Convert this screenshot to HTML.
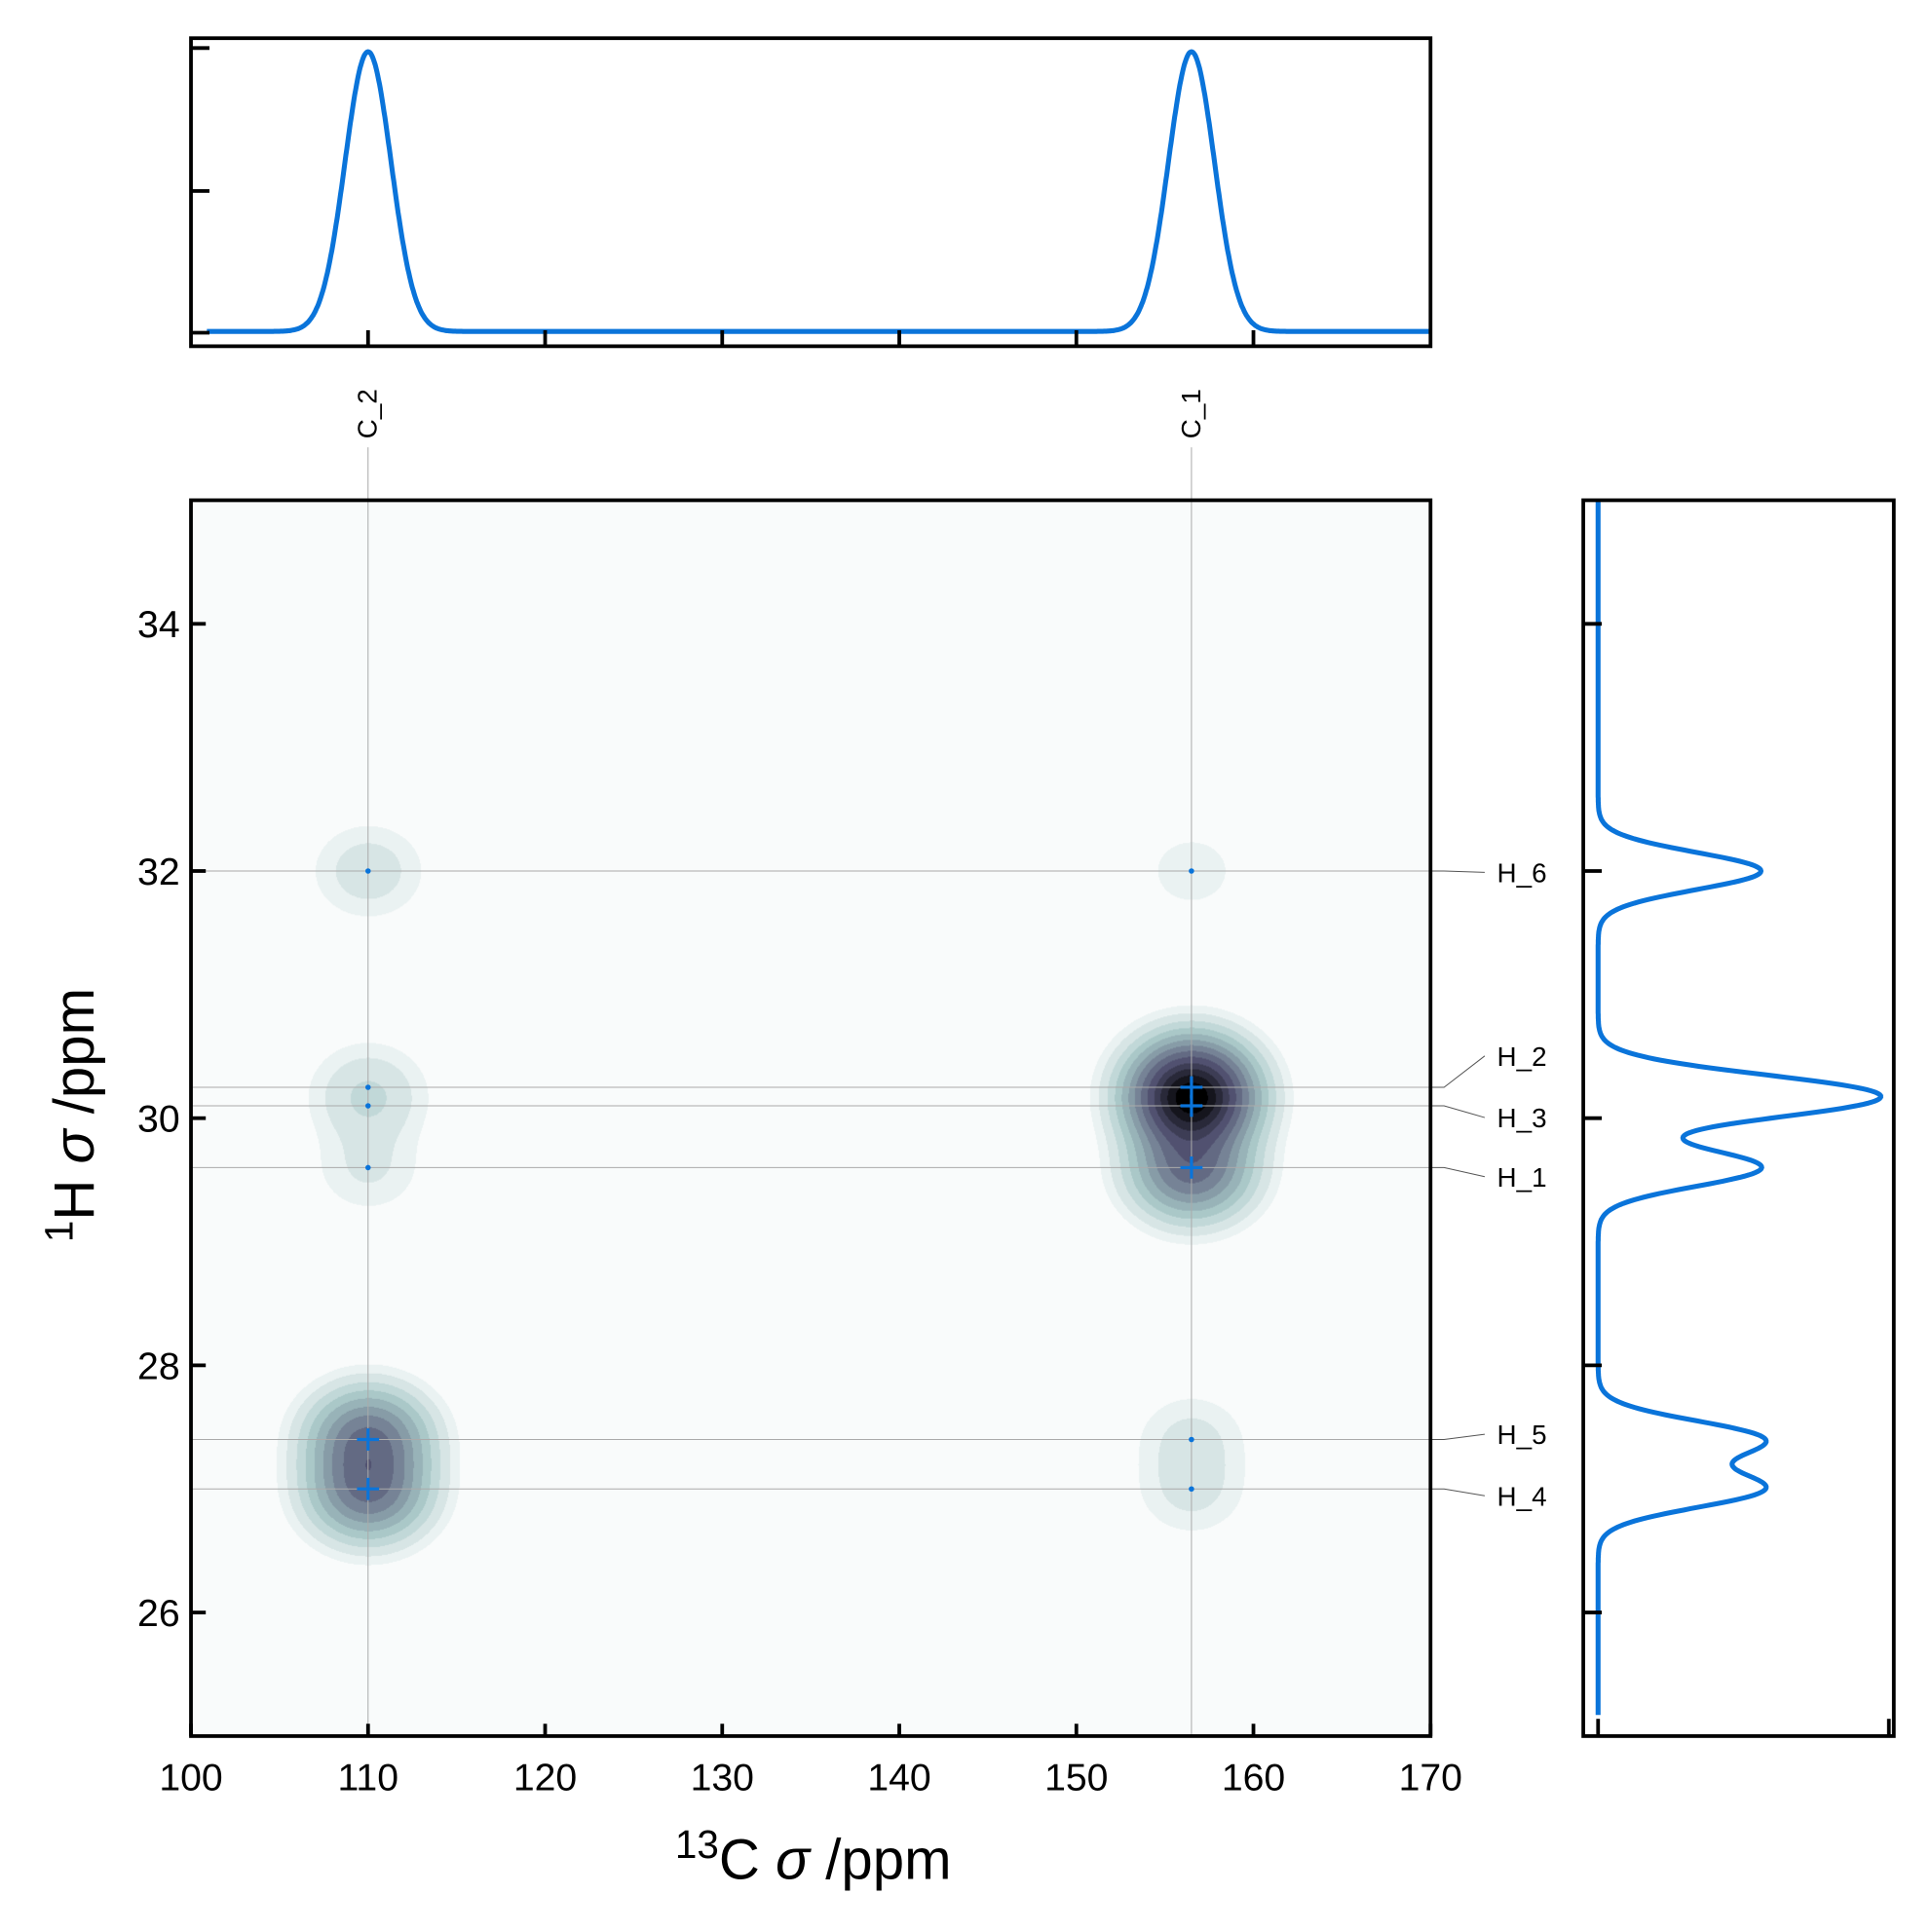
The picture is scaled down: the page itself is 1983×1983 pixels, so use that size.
<!DOCTYPE html>
<html><head><meta charset="utf-8">
<style>
html,body{margin:0;padding:0;background:#fff;}
#wrap{position:relative;width:1983px;height:1983px;overflow:hidden;}
#map{position:absolute;left:196.03px;top:513.46px;width:1272.26px;height:1268.47px;}
#svg{position:absolute;left:0;top:0;}
text{font-family:"Liberation Sans",sans-serif;fill:#000;}
</style></head>
<body>
<div id="wrap">
<canvas id="map"></canvas>
<svg id="svg" width="1983" height="1983" viewBox="0 0 1568 1568"></svg>
</div>
<script>
// ---- data ----
const carbonLabels = ["C_1","C_2"];
const carbonShifts = [156.5, 110.0];
const carbonAmps = [1.0, 1.0];
const protonLabels = ["H_1","H_2","H_3","H_4","H_5","H_6"];
const protonShifts = [29.6, 30.25, 30.1, 27.0, 27.4, 32.0];
const protonAmps = [0.58, 0.57, 0.57, 0.58, 0.58, 0.58];
const protonLabelY = [955, 857, 907, 1214, 1164, 708];
// cross-peak amplitudes [carbon][proton]
const crossC1 = [0.6, 1.0, 1.0, 0.035, 0.035, 0.02];
const crossC2 = [0.03, 0.035, 0.035, 0.55, 0.55, 0.045];
const xTicks = [100,110,120,130,140,150,160,170];
const yTicks = [26,28,30,32,34];

// ---- scales (1568 space) ----
const X0=155,X1=1161,Y0=406,Y1=1409;
const xs = c => X0 + (c-100)/(170-100)*(X1-X0);
const ys = h => Y1 - (h-25)/(35-25)*(Y1-Y0);
const topY = v => 269 - v*(269-42);
const rightX = v => 1297 + v*(1525-1297);
const SC=1.3, SH=0.15;

const svg=document.getElementById('svg');
const NS="http://www.w3.org/2000/svg";
function el(tag,attrs,parent){const e=document.createElementNS(NS,tag);for(const k in attrs)e.setAttribute(k,attrs[k]);(parent||svg).appendChild(e);return e;}

// ---- 2D map on canvas ----
(function(){
  const cv=document.getElementById('map');
  const W=1272,H=1268;cv.width=W;cv.height=H;
  const ctx=cv.getContext('2d');const img=ctx.createImageData(W,H);
  const sc=1.8, sh=0.22;
  const cross=[crossC1,crossC2];
  const levels=[0.006,0.014,0.03,0.055,0.09,0.14,0.2,0.28,0.38,0.5,0.62,0.75,0.88];
  function hot(x){return [Math.min(1,Math.max(0,x/0.365)),Math.min(1,Math.max(0,(x-0.365)/0.381)),Math.min(1,Math.max(0,(x-0.746)/0.254))];}
  function boneR(t){const x=1-t;const h=hot(x);return [(7*x+h[2])/8,(7*x+h[1])/8,(7*x+h[0])/8];}
  let max=0;const field=new Float32Array(W*H);
  const gx=[],gy=[];
  for(let i=0;i<2;i++){const a=new Float32Array(W);for(let px=0;px<W;px++){const c=100+px/W*70;a[px]=Math.exp(-((c-carbonShifts[i])**2)/(2*sc*sc));}gx.push(a);}
  for(let j=0;j<6;j++){const a=new Float32Array(H);for(let py=0;py<H;py++){const h=35-py/H*10;a[py]=Math.exp(-((h-protonShifts[j])**2)/(2*sh*sh));}gy.push(a);}
  for(let py=0;py<H;py++)for(let px=0;px<W;px++){let v=0;for(let i=0;i<2;i++){const g=gx[i][px];if(g<1e-5)continue;for(let j=0;j<6;j++)v+=cross[i][j]*g*gy[j][py];}field[py*W+px]=v;if(v>max)max=v;}
  const n=levels.length;
  const cols=[[0.976,0.984,0.984]];for(let k=1;k<=n;k++){cols.push(boneR(0.02+Math.pow(k/n,1.25)*0.98));}
  for(let p=0;p<W*H;p++){const v=field[p]/max;let k=0;while(k<n&&v>=levels[k])k++;const c=cols[k];img.data[p*4]=c[0]*255;img.data[p*4+1]=c[1]*255;img.data[p*4+2]=c[2]*255;img.data[p*4+3]=255;}
  ctx.putImageData(img,0,0);
})();

// ---- main plot gridlines ----
carbonShifts.forEach((c,i)=>{
  const l=el('line',{x1:xs(c),x2:xs(c),y1:363,y2:Y1,stroke:'#aaa','stroke-width':0.8});
  
  
  const t=el('text',{x:0,y:0,'font-size':22,transform:`translate(${xs(c)+7},356) rotate(-90)`});
  t.textContent=carbonLabels[i];
  
  
});
protonShifts.forEach((h,j)=>{
  const y=ys(h);
  const l=el('line',{x1:X0,x2:X1,y1:y,y2:y,stroke:'#aaa','stroke-width':0.8});
  
  
  const c=el('polyline',{points:`${X1},${y} ${X1+11},${y} ${1205},${protonLabelY[j]}`,fill:'none',stroke:'#555','stroke-width':0.8});
  
  
  const t=el('text',{x:1215,y:protonLabelY[j]+8,'font-size':22});
  t.textContent=protonLabels[j];
  
  
});
// peak markers
const cross=[crossC1,crossC2];
carbonShifts.forEach((c,i)=>protonShifts.forEach((h,j)=>{
  const a=cross[i][j];const x=xs(c),y=ys(h);
  if(a>=0.5){
    const m=el('path',{d:`M${x-9},${y}H${x+9}M${x},${y-9}V${y+9}`,stroke:'#0a74da','stroke-width':2.5});
    
    
  } else {
    const m=el('circle',{cx:x,cy:y,r:2.2,fill:'#0a74da'});
    
    
  }
}));

// ---- main axes frame & ticks ----
let f=el('rect',{x:X0,y:Y0,width:X1-X0,height:Y1-Y0,fill:'none',stroke:'#000','stroke-width':3});


xTicks.forEach(v=>{
  el('line',{x1:xs(v),x2:xs(v),y1:Y1,y2:Y1-10,stroke:'#000','stroke-width':3});
  const t=el('text',{x:xs(v),y:1453,'font-size':31,'text-anchor':'middle'});t.textContent=v;
  
  
});
yTicks.forEach(v=>{
  el('line',{x1:X0,x2:X0+12,y1:ys(v),y2:ys(v),stroke:'#000','stroke-width':3});
  const t=el('text',{x:146,y:ys(v)+11,'font-size':31,'text-anchor':'end'});t.textContent=v;
  
  
});
let xt=el('text',{x:660,y:1525,'font-size':46,'text-anchor':'middle'});
xt.innerHTML='<tspan dy="-17" font-size="32">13</tspan><tspan dy="17">C </tspan><tspan font-style="italic">σ</tspan><tspan> /ppm</tspan>';


let yt=el('text',{x:0,y:0,'font-size':46,'text-anchor':'middle',transform:'translate(76,905) rotate(-90)'});
yt.innerHTML='<tspan dy="-17" font-size="32">1</tspan><tspan dy="17">H </tspan><tspan font-style="italic">σ</tspan><tspan> /ppm</tspan>';



// ---- top 1D carbon spectrum ----
let pts=[];
for(let c=100.9;c<=170;c+=0.05){let v=0;carbonShifts.forEach((s,i)=>v+=carbonAmps[i]*Math.exp(-((c-s)**2)/(2*SC*SC)));pts.push(xs(c).toFixed(1)+','+topY(v).toFixed(1));}
let tl=el('polyline',{points:pts.join(' '),fill:'none',stroke:'#0a74da','stroke-width':4});


f=el('rect',{x:X0,y:31,width:X1-X0,height:250,fill:'none',stroke:'#000','stroke-width':3});


[110,120,130,140,150,160].forEach(v=>el('line',{x1:xs(v),x2:xs(v),y1:281,y2:268,stroke:'#000','stroke-width':3}));
[39,155,270].forEach(y=>el('line',{x1:X0,x2:X0+15,y1:y,y2:y,stroke:'#000','stroke-width':3}));

// ---- right 1D proton spectrum ----
pts=[];
for(let h=25.17;h<=35;h+=0.01){let v=0;protonShifts.forEach((s,j)=>v+=protonAmps[j]*Math.exp(-((h-s)**2)/(2*SH*SH)));pts.push(rightX(v).toFixed(1)+','+ys(h).toFixed(1));}
let rl=el('polyline',{points:pts.join(' '),fill:'none',stroke:'#0a74da','stroke-width':4});


f=el('rect',{x:1285,y:Y0,width:252,height:Y1-Y0,fill:'none',stroke:'#000','stroke-width':3});


yTicks.forEach(v=>el('line',{x1:1285,x2:1300,y1:ys(v),y2:ys(v),stroke:'#000','stroke-width':3}));
[1297,1533].forEach(x=>el('line',{x1:x,x2:x,y1:Y1,y2:Y1-14,stroke:'#000','stroke-width':3}));
</script>
</body></html>
